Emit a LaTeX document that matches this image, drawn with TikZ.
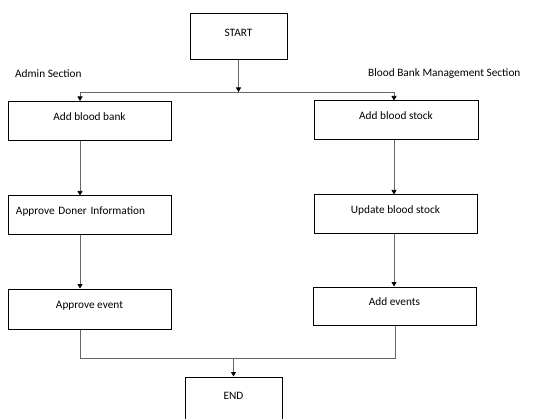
\documentclass[tikz,border=0pt]{standalone}
\usepackage{fontspec}
\setmainfont{Carlito}
\usetikzlibrary{arrows.meta}

\begin{document}
\begin{tikzpicture}[x=1pt, y=-1pt, >={Triangle[width=5pt, length=4.5pt, color=black]},
  box/.style={draw, line width=1pt, minimum width=163pt, minimum height=39pt, inner sep=0pt,
    text height=8pt, text depth=9.5pt, font=\fontsize{11.3}{13}\selectfont},
  boxleft/.style={box, text width=147pt, align=left},
  section/.style={inner sep=0pt, font=\fontsize{11.3}{13}\selectfont},
  flow/.style={draw=black!60, line width=0.75pt}]
  \useasboundingbox (0,0) rectangle (553,419);

  % top
  \node[box, minimum width=97pt, minimum height=46pt] (start) at (238.5,37) {START};
  \coordinate (split) at (238.5,92);
  \node[section, anchor=west] (admin) at (15,74) {Admin Section};
  \node[section, anchor=west] (bbms) at (368,74) {Blood Bank Management Section};

  % admin column
  \node[box] (addbank) at (89.5,121) {Add blood bank};
  \node[boxleft] (doner) at (89.5,215.5) {Approve Doner Information};
  \node[box, minimum height=40pt] (approve) at (89.5,309) {Approve event};

  % blood bank column
  \node[box, minimum width=164pt] (addstock) at (396,120.5) {Add blood stock};
  \node[box] (update) at (395.5,214.5) {Update blood stock};
  \node[box, minimum height=38pt] (events) at (394.5,306) {Add events};

  % bottom
  \coordinate (join) at (233.5,358);
  \node[box, minimum width=97pt, minimum height=46pt] (end) at (233.5,400) {END};

  \draw[flow, ->] (start) -- (split);
  \draw[flow, ->] (split) -| ([xshift=-9.5pt]addbank.north);
  \draw[flow, ->] (split) -| ([xshift=-2pt]addstock.north);
  \draw[flow, ->] ([xshift=-9.5pt]addbank.south) -- ([xshift=-9.5pt]doner.north);
  \draw[flow, ->] ([xshift=-9.5pt]doner.south) -- ([xshift=-9.5pt]approve.north);
  \draw[flow, ->] ([xshift=-2pt]addstock.south) -- ([xshift=-1.5pt]update.north);
  \draw[flow, ->] ([xshift=-1.5pt]update.south) -- ([xshift=-0.5pt]events.north);
  \draw[flow] ([xshift=-9.5pt]approve.south) |- (join);
  \draw[flow] ([xshift=0.5pt]events.south) |- (join);
  \draw[flow, ->] (join) -- (end);
\end{tikzpicture}
\end{document}
